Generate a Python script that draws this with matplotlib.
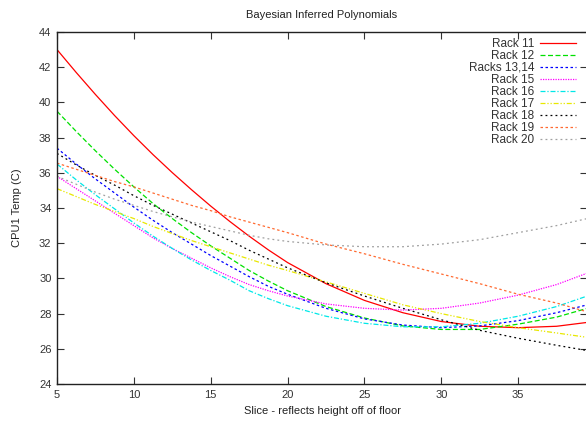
import matplotlib
matplotlib.use("Agg")
import matplotlib.pyplot as plt

plt.rcParams['font.family'] = ['Liberation Sans', 'DejaVu Sans']

slices = [5, 6.25, 7.5, 8.75, 10, 11.25, 12.5, 13.75, 15, 16.25, 17.5, 18.75,
          20, 22.5, 25, 27.5, 30, 32.5, 35, 37.5, 39.5]

rack11 = [43.0, 41.7, 40.45, 39.25, 38.11, 37.03, 36.01, 35.04, 34.11, 33.23, 32.4, 31.62,
          30.9, 29.7, 28.75, 28.05, 27.55, 27.28, 27.2, 27.28, 27.5]
rack12 = [39.5, 38.35, 37.25, 36.2, 35.2, 34.25, 33.4, 32.6, 31.85, 31.15, 30.45, 29.85,
          29.3, 28.4, 27.75, 27.3, 27.1, 27.1, 27.4, 27.8, 28.3]
rack1314 = [37.4, 36.5, 35.65, 34.85, 34.05, 33.3, 32.6, 31.95, 31.3, 30.7, 30.1, 29.55,
            29.1, 28.3, 27.7, 27.35, 27.2, 27.3, 27.6, 28.05, 28.5]
rack15 = [35.8, 35.1, 34.4, 33.7, 33.0, 32.3, 31.7, 31.15, 30.6, 30.1, 29.65, 29.3,
          29.0, 28.55, 28.3, 28.2, 28.3, 28.6, 29.05, 29.65, 30.3]
rack16 = [36.5, 35.6, 34.75, 33.95, 33.15, 32.4, 31.7, 31.05, 30.45, 29.9, 29.3, 28.85,
          28.45, 27.85, 27.45, 27.25, 27.25, 27.45, 27.85, 28.4, 29.0]
rack17 = [35.1, 34.65, 34.2, 33.8, 33.4, 32.95, 32.55, 32.15, 31.8, 31.45, 31.1, 30.75,
          30.45, 29.8, 29.15, 28.5, 28.0, 27.55, 27.2, 26.9, 26.65]
rack18 = [37.1, 36.45, 35.85, 35.3, 34.7, 34.15, 33.65, 33.15, 32.65, 32.15, 31.6, 31.1,
          30.6, 29.75, 29.0, 28.3, 27.65, 27.05, 26.6, 26.2, 25.9]
rack19 = [36.55, 36.2, 35.85, 35.5, 35.2, 34.85, 34.5, 34.15, 33.85, 33.5, 33.2, 32.9,
          32.6, 31.95, 31.4, 30.8, 30.25, 29.7, 29.1, 28.6, 28.1]
rack20 = [35.8, 35.35, 34.9, 34.5, 34.15, 33.8, 33.5, 33.2, 32.95, 32.7, 32.45, 32.25,
          32.1, 31.9, 31.8, 31.8, 31.95, 32.2, 32.6, 33.0, 33.4]

labels = ["Rack 11", "Rack 12", "Racks 13,14", "Rack 15", "Rack 16",
          "Rack 17", "Rack 18", "Rack 19", "Rack 20"]
series = [rack11, rack12, rack1314, rack15, rack16, rack17, rack18, rack19, rack20]
colors = ["#ff0000", "#00e000", "#0000ff", "#ff00ff", "#00e8e8",
          "#e8e800", "#000000", "#ff6a30", "#a0a0a0"]
dashes = [None, (4, 2), (2, 2), (1, 1), (4, 1.5, 1, 1.5),
          (4, 1.5, 1, 1.5, 1, 1.5), (1.5, 2.5), (2, 2), (1.5, 2.5)]

fig = plt.figure(figsize=(5.86, 4.22), dpi=100)
ax = fig.add_axes([57/586, 38/422, 530/586, 352/422])

for y, lab, c, d in zip(series, labels, colors, dashes):
    line, = ax.plot(slices, y, color=c, lw=0.9, label=lab)
    if d is not None:
        line.set_dashes(d)

ax.set_xlim(5, 39.48)
ax.set_ylim(24, 44)
ax.set_xticks([5, 10, 15, 20, 25, 30, 35])
ax.set_yticks(list(range(24, 45, 2)))
ax.tick_params(direction='in', top=True, right=True, length=5, width=0.8,
               labelsize=8, pad=4, colors='#333333', labelcolor='#333333')
for s in ax.spines.values():
    s.set_linewidth(1.0)
    s.set_color('#222222')

ax.set_title("Bayesian Inferred Polynomials", fontsize=8, pad=10, color='#222222')
ax.set_xlabel("Slice - reflects height off of floor", fontsize=8, labelpad=5, color='#222222')
ax.set_ylabel("CPU1 Temp (C)", fontsize=8, labelpad=12, color='#222222')

leg = ax.legend(loc='upper right', frameon=False, markerfirst=False, fontsize=8.5,
                handlelength=3.0, labelspacing=0.0, handletextpad=0.5,
                borderaxespad=0.1, bbox_to_anchor=(0.99, 1.0))
for t in leg.get_texts():
    t.set_color('#333333')

fig.savefig("out.png", dpi=100)
